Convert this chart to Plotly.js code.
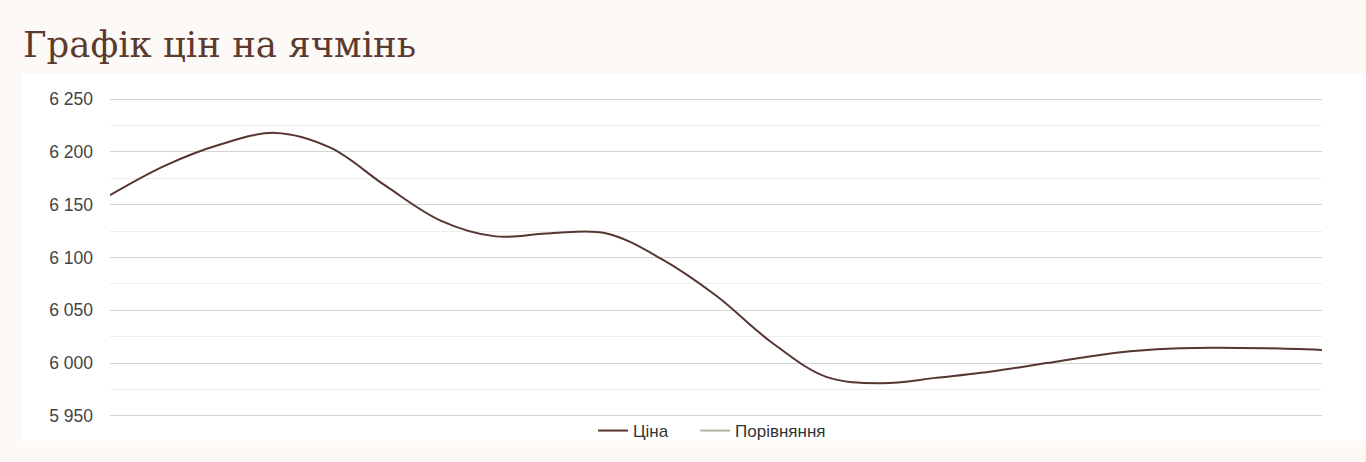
<!DOCTYPE html>
<html>
<head>
<meta charset="utf-8">
<script src="https://cdn.plot.ly/plotly-3.0.1.min.js"></script>
<style>
  html, body { margin: 0; padding: 0; background: #fdf9f6; }
  #chart { width: 1366px; height: 462px; }
</style>
</head>
<body>
<div id="chart"></div>
<script>
// Sample points along the period (x axis has no labels in the reference)
const points = ["1","2","3","4","5","6","7","8","9","10","11","12","13","14","15","16","17","18","19","20","21","22","23"];
// Price (Ціна), values
const price = [6159, 6187, 6207, 6218, 6204, 6168, 6135, 6120, 6123, 6123, 6099, 6064, 6020, 5987, 5981, 5986, 5992, 6000, 6008, 6013, 6014.5, 6014, 6012.5];
// Comparison series (Порівняння) – present in legend only, no values drawn
const comparison = points.map(() => null);
const seriesNames = ["Ціна", "Порівняння"];
const yTicks = [5950, 6000, 6050, 6100, 6150, 6200, 6250];

const traces = [
  {
    x: points, y: price, name: seriesNames[0], type: "scatter", mode: "lines",
    line: { color: "#553630", width: 2, shape: "spline", smoothing: 1 },
    hoverinfo: "y", legend: "legend"
  },
  {
    x: points, y: comparison, name: seriesNames[1], type: "scatter", mode: "lines",
    line: { color: "#b3b5a1", width: 2 },
    hoverinfo: "skip", legend: "legend2"
  }
];

const L = 110, R = 44, T = 97, B = 44, W = 1366, H = 462;
const pw = W - L - R, ph = H - T - B;

const legendBase = {
  orientation: "h",
  xanchor: "left",
  y: -13 / ph, yanchor: "middle",
  font: { family: "Liberation Sans, Arial, sans-serif", size: 17, color: "#333333" },
  bgcolor: "rgba(0,0,0,0)",
  itemwidth: 30
};

const layout = {
  width: W, height: H,
  margin: { l: L, r: R, t: T, b: B },
  paper_bgcolor: "#fdf9f6",
  plot_bgcolor: "rgba(0,0,0,0)",
  separators: ", ",
  font: { family: "Liberation Sans, Arial, sans-serif", color: "#444444", size: 17 },
  title: {
    text: "Графік цін на ячмінь",
    font: { family: "DejaVu Serif, serif", size: 35.5, color: "#5b3a2f" },
    xref: "container", yref: "container",
    x: 23 / W, xanchor: "left",
    y: 1 - 45 / H, yanchor: "middle"
  },
  xaxis: {
    type: "category",
    range: [0, points.length - 1],
    showgrid: false, zeroline: false, showline: false,
    showticklabels: false, ticks: "", fixedrange: true
  },
  yaxis: {
    range: [5948, 6252],
    tickvals: yTicks,
    tickformat: ",d",
    showgrid: true, gridcolor: "#d3d3d3", gridwidth: 1,
    minor: { dtick: 25, tick0: 5950, showgrid: true, gridcolor: "#ededed", gridwidth: 1, ticks: "" },
    zeroline: false, showline: false, ticks: "",
    ticklabelstandoff: 16,
    tickfont: { family: "Liberation Sans, Arial, sans-serif", size: 17.5, color: "#444444" },
    fixedrange: true
  },
  showlegend: true,
  legend: Object.assign({}, legendBase, { x: (593 - L) / pw }),
  legend2: Object.assign({}, legendBase, { x: (695 - L) / pw }),
  shapes: [
    {
      type: "rect", xref: "paper", yref: "paper", layer: "below",
      x0: (22 - L) / pw, x1: (W - L) / pw,
      y0: -(441 - (H - B)) / ph, y1: 1 + (T - 74) / ph,
      fillcolor: "#ffffff", line: { width: 0 }
    }
  ]
};

Plotly.newPlot("chart", traces, layout, { displayModeBar: false, staticPlot: true });
</script>
</body>
</html>
